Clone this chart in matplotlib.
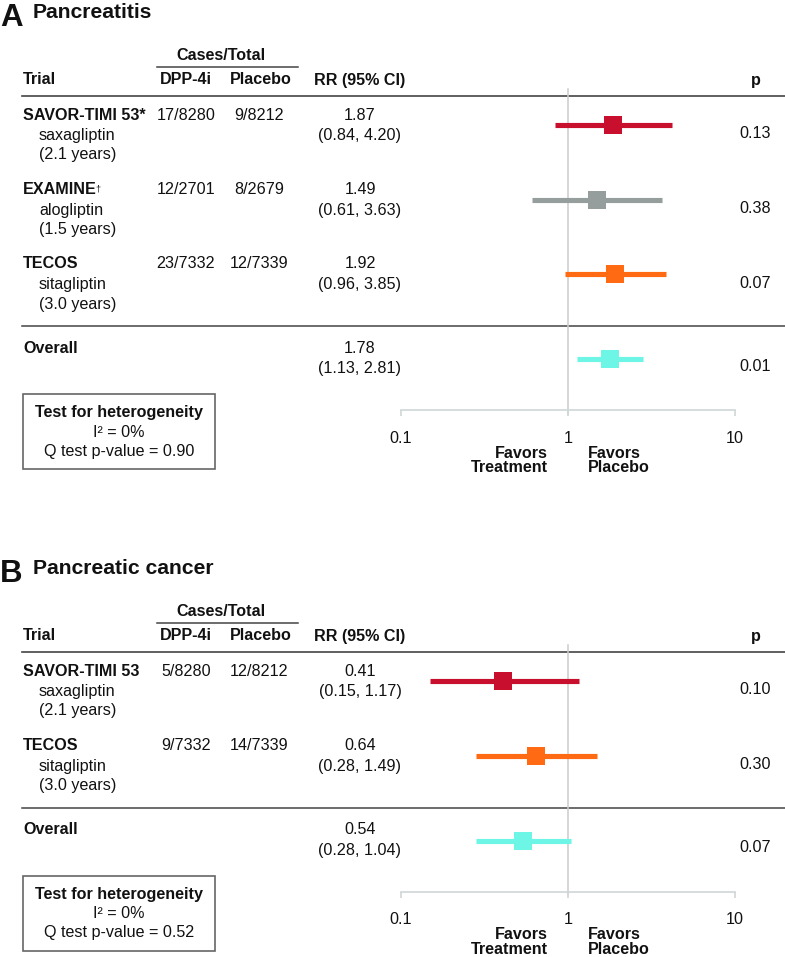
import matplotlib
matplotlib.use("Agg")
import matplotlib.pyplot as plt
from matplotlib.patches import Rectangle

plt.rcParams['font.family'] = ['Liberation Sans', 'DejaVu Sans']

# ---------------- data ----------------
A_title = "Pancreatitis"
A_trials = ["SAVOR-TIMI 53*", "EXAMINE", "TECOS"]
A_marks = ["", "\u2020", ""]
A_drugs = ["saxagliptin", "alogliptin", "sitagliptin"]
A_years = ["(2.1 years)", "(1.5 years)", "(3.0 years)"]
A_dpp = ["17/8280", "12/2701", "23/7332"]
A_pbo = ["9/8212", "8/2679", "12/7339"]
A_rr = [1.87, 1.49, 1.92]
A_lo = [0.84, 0.61, 0.96]
A_hi = [4.20, 3.63, 3.85]
A_p = ["0.13", "0.38", "0.07"]
A_overall = [1.78, 1.13, 2.81]
A_overall_p = "0.01"
A_i2 = "0%"
A_q = "0.90"

B_title = "Pancreatic cancer"
B_trials = ["SAVOR-TIMI 53", "TECOS"]
B_marks = ["", ""]
B_drugs = ["saxagliptin", "sitagliptin"]
B_years = ["(2.1 years)", "(3.0 years)"]
B_dpp = ["5/8280", "9/7332"]
B_pbo = ["12/8212", "14/7339"]
B_rr = [0.41, 0.64]
B_lo = [0.15, 0.28]
B_hi = [1.17, 1.49]
B_p = ["0.10", "0.30"]
B_overall = [0.54, 0.28, 1.04]
B_overall_p = "0.07"
B_i2 = "0%"
B_q = "0.52"

tick_vals = [0.1, 1, 10]
tick_labels = ["0.1", "1", "10"]

trial_colors = {"SAVOR": "#C8102E", "EXAMINE": "#959E9C", "TECOS": "#FF6A13"}
overall_color = "#6DF5E6"

# ---------------- layout ----------------
W, H = 785, 957
fig = plt.figure(figsize=(W / 100, H / 100), dpi=100)
bg = fig.add_axes([0, 0, 1, 1])
bg.set_xlim(0, W)
bg.set_ylim(H, 0)
bg.axis('off')

FS = 11.6
TXT = "#111111"
LINE = "#444444"
AX_GRAY = "#D0D6D6"
X_L, X_R = 401, 735

def color_for(name):
    for k, c in trial_colors.items():
        if name.startswith(k):
            return c
    return "#888888"

def panel(T, letter, title, trials, marks, drugs, years, dpp, pbo, rr, lo, hi, pv,
          overall, overall_p, i2, q):
    n = len(trials)
    bg.text(0, T + 3, letter, fontsize=22.5, fontweight='bold', va='top', ha='left', color=TXT)
    bg.text(33, T + 3, title, fontsize=15.2, fontweight='bold', va='top', ha='left', color=TXT)
    # headers
    bg.text(221, T + 55, "Cases/Total", fontsize=FS, fontweight='bold', ha='center', va='center', color=TXT)
    bg.plot([157, 298], [T + 67, T + 67], color=LINE, lw=1.1)
    bg.text(23, T + 80, "Trial", fontsize=FS, fontweight='bold', ha='left', va='center', color=TXT)
    bg.text(186, T + 80, "DPP-4i", fontsize=FS, fontweight='bold', ha='center', va='center', color=TXT)
    bg.text(261, T + 80, "Placebo", fontsize=FS, fontweight='bold', ha='center', va='center', color=TXT)
    bg.text(360, T + 80, "RR (95% CI)", fontsize=FS, fontweight='bold', ha='center', va='center', color=TXT)
    bg.text(756, T + 80, "p", fontsize=FS, fontweight='bold', ha='center', va='center', color=TXT)
    bg.plot([22, W], [T + 95.5, T + 95.5], color=LINE, lw=1.2)

    sep = T + 115 + 74.5 * n - 12.5
    axis_y = sep + 84
    top_y = T + 89

    fa = fig.add_axes([X_L / W, 1 - axis_y / H, (X_R - X_L) / W, (axis_y - top_y) / H])
    fa.set_xscale('log')
    fa.set_xlim(0.1, 10)
    fa.set_ylim(axis_y, top_y)
    fa.patch.set_alpha(0)
    for s in ['top', 'left', 'right']:
        fa.spines[s].set_visible(False)
    fa.spines['bottom'].set_color(AX_GRAY)
    fa.spines['bottom'].set_linewidth(1.2)
    fa.set_yticks([])
    fa.minorticks_off()
    fa.set_xticks(tick_vals)
    fa.set_xticklabels(tick_labels)
    fa.tick_params(axis='x', which='major', direction='out', length=4, width=1.2,
                   color=AX_GRAY, labelsize=FS, labelcolor=TXT, pad=11)
    fa.tick_params(axis='x', which='minor', length=0)
    fa.axvline(1, ymin=-0.012, ymax=1, color="#CCCCCC", lw=1.1, zorder=1, clip_on=False)

    for i in range(n):
        y = T + 115 + 74.5 * i
        t = bg.text(23, y, trials[i], fontsize=FS, fontweight='bold', ha='left', va='center', color=TXT)
        if marks[i]:
            bg.annotate(marks[i], xy=(1, 1), xycoords=t, xytext=(-1.0, -1.5), textcoords='offset points',
                        fontsize=6.5, ha='left', va='top', color=TXT)
        bg.text(39, y + 20.5, drugs[i], fontsize=FS, ha='left', va='center', color=TXT)
        bg.text(39, y + 40, years[i], fontsize=FS, ha='left', va='center', color=TXT)
        bg.text(186, y, dpp[i], fontsize=FS, ha='center', va='center', color=TXT)
        bg.text(259, y, pbo[i], fontsize=FS, ha='center', va='center', color=TXT)
        bg.text(360, y, f"{rr[i]:.2f}", fontsize=FS, ha='center', va='center', color=TXT)
        bg.text(360, y + 20.5, f"({lo[i]:.2f}, {hi[i]:.2f})", fontsize=FS, ha='center', va='center', color=TXT)
        bg.text(755, y + 19, pv[i], fontsize=FS, ha='center', va='center', color=TXT)
        c = color_for(trials[i])
        my = y + 10
        fa.plot([lo[i], hi[i]], [my, my], color=c, lw=3.7, solid_capstyle='butt', zorder=3, clip_on=False)
        fa.plot([rr[i]], [my], marker='s', ms=12.3, mew=0, color=c, zorder=4, clip_on=False)

    bg.plot([22, W], [sep, sep], color=LINE, lw=1.1)
    oy = sep + 22.5
    bg.text(23, oy, "Overall", fontsize=FS, fontweight='bold', ha='left', va='center', color=TXT)
    bg.text(360, oy, f"{overall[0]:.2f}", fontsize=FS, ha='center', va='center', color=TXT)
    bg.text(360, oy + 20, f"({overall[1]:.2f}, {overall[2]:.2f})", fontsize=FS, ha='center', va='center', color=TXT)
    bg.text(755, oy + 18, overall_p, fontsize=FS, ha='center', va='center', color=TXT)
    my = oy + 10.5
    fa.plot([overall[1], overall[2]], [my, my], color=overall_color, lw=3.7, solid_capstyle='butt', zorder=3, clip_on=False)
    fa.plot([overall[0]], [my], marker='s', ms=12.3, mew=0, color=overall_color, zorder=4, clip_on=False)

    # heterogeneity box
    bg.add_patch(Rectangle((23, sep + 68), 192, 75, fill=False, edgecolor="#666666", lw=1.2))
    bg.text(119, sep + 87, "Test for heterogeneity", fontsize=FS, fontweight='bold', ha='center', va='center', color=TXT)
    bg.text(119, sep + 106.5, f"I\u00b2 = {i2}", fontsize=FS, ha='center', va='center', color=TXT)
    bg.text(119, sep + 125.5, f"Q test p-value = {q}", fontsize=FS, ha='center', va='center', color=TXT)

    # favors labels
    for txt, xx, ha in [("Favors", 548, 'right'), ("Favors", 588, 'left')]:
        bg.text(xx, axis_y + 43, txt, fontsize=FS, fontweight='bold', ha=ha, va='center', color=TXT)
    bg.text(548, axis_y + 58, "Treatment", fontsize=FS, fontweight='bold', ha='right', va='center', color=TXT)
    bg.text(588, axis_y + 58, "Placebo", fontsize=FS, fontweight='bold', ha='left', va='center', color=TXT)

panel(0, "A", A_title, A_trials, A_marks, A_drugs, A_years, A_dpp, A_pbo, A_rr, A_lo, A_hi, A_p,
      A_overall, A_overall_p, A_i2, A_q)
panel(556, "B", B_title, B_trials, B_marks, B_drugs, B_years, B_dpp, B_pbo, B_rr, B_lo, B_hi, B_p,
      B_overall, B_overall_p, B_i2, B_q)

fig.savefig("out.png", dpi=100, facecolor="white")
